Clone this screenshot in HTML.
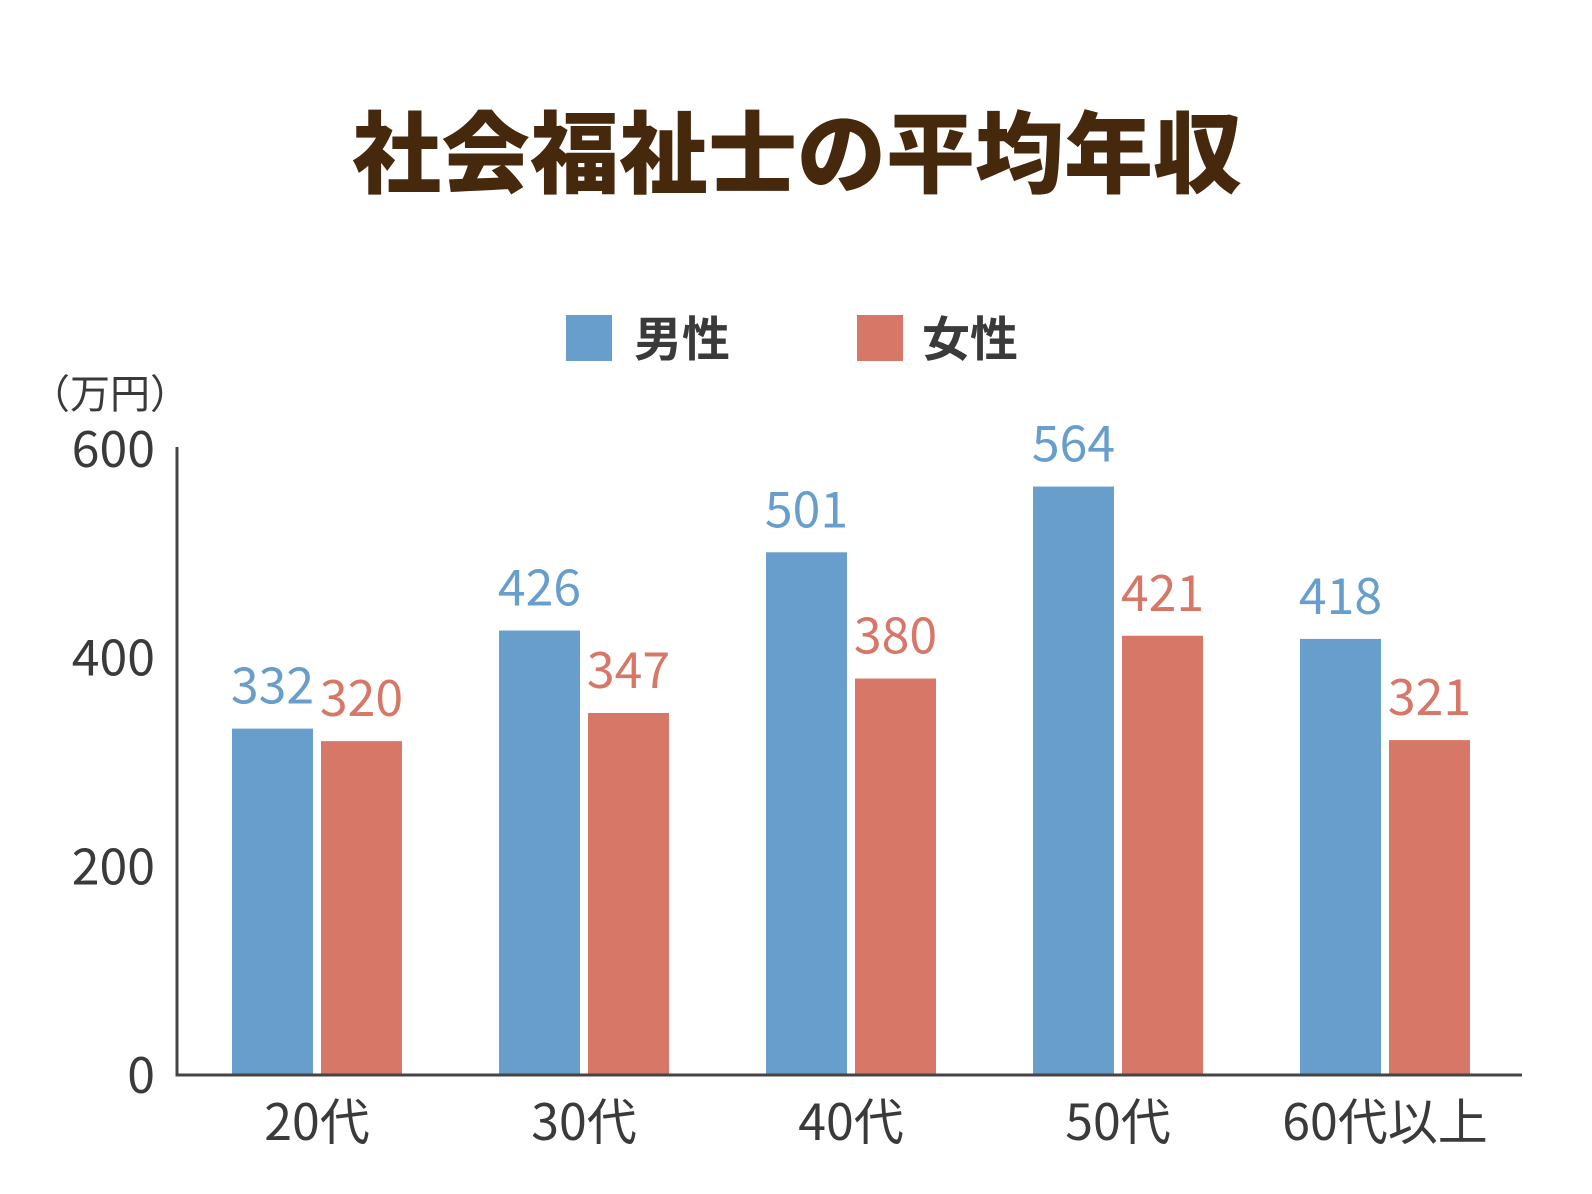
<!DOCTYPE html>
<html><head><meta charset="utf-8"><style>
html,body{margin:0;padding:0;background:#fff;}
svg{display:block;}
text{font-family:"Noto Sans CJK JP","Liberation Sans",sans-serif;}
</style></head><body>
<svg id="chart" width="1592" height="1194" viewBox="0 0 1592 1194">
<text x="797" y="186" text-anchor="middle" font-size="89" font-weight="900" fill="#46280c">社会福祉士の平均年収</text>
<g>
<rect x="566" y="315" width="46" height="46" fill="#689ecc"/>
<text x="634" y="356" font-size="48" font-weight="bold" fill="#3a3a3a">男性</text>
<rect x="857" y="315" width="46" height="46" fill="#d67767"/>
<text x="922" y="356" font-size="48" font-weight="bold" fill="#3a3a3a">女性</text>
</g>
<text x="30" y="408" font-size="40" fill="#3a3a3a">（万円）</text>
<g id="plot"></g>
</svg>
<script>
const categories = ["20代","30代","40代","50代","60代以上"];
const maleValues = [332,426,501,564,418];
const femaleValues = [320,347,380,421,321];
const yTicks = [0,200,400,600];
const ns = "http://www.w3.org/2000/svg";
const plot = document.getElementById('plot');
const X0 = 177, X1 = 1522, Y0 = 1075, Ytop = 449, YMAX = 600;
const y = v => Y0 - v / YMAX * (Y0 - Ytop);
const groupStart = 232, groupStep = 267, barW = 81, gap = 8;
const xb = (i, s) => groupStart + i * groupStep + s * (barW + gap);
function mk(tag, attrs, txt){const e=document.createElementNS(ns,tag);for(const k in attrs)e.setAttribute(k,attrs[k]);if(txt!==undefined)e.textContent=txt;plot.appendChild(e);return e;}
yTicks.forEach(t=>{
  const e = mk('text',{x:155,y:y(t)+18,'text-anchor':'end','font-size':50,fill:'#3a3a3a'},String(t));
  
  
});
const series = [[maleValues,'#689ecc','male'],[femaleValues,'#d67767','female']];
categories.forEach((c,i)=>{
  series.forEach(([vals,col,nm],s)=>{
    const v = vals[i];
    const r = mk('rect',{x:xb(i,s),y:y(v),width:barW,height:Y0-y(v),fill:col});
    
    
    const t = mk('text',{x:xb(i,s)+barW/2,y:y(v)-25,'text-anchor':'middle','font-size':50,fill:col},String(v));
    
    
  });
  const cx = xb(i,0) + barW + gap/2;
  const l = mk('text',{x:cx,y:1140,'text-anchor':'middle','font-size':50,fill:'#3a3a3a'},c);
  
  
});
const ax = mk('path',{d:`M${X0} ${Ytop-2} V${Y0} H${X1}`,stroke:'#444',fill:'none','stroke-width':3});


</script>
</body></html>
